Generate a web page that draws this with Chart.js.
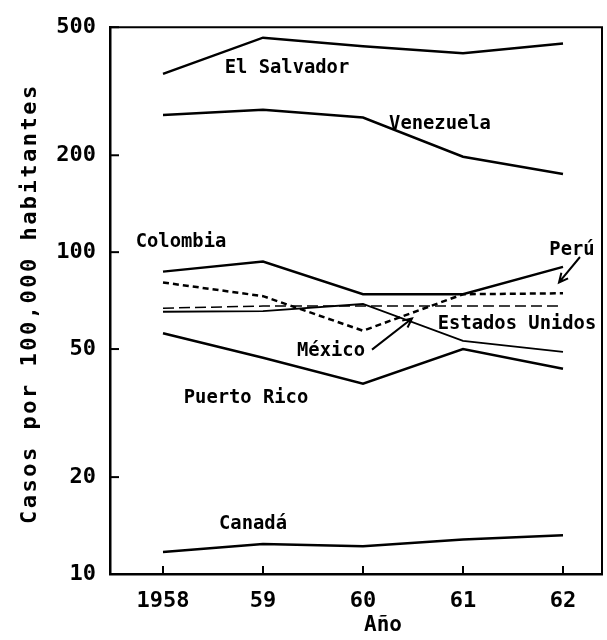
<!DOCTYPE html>
<html lang="es">
<head>
<meta charset="UTF-8">
<title>Casos por 100,000 habitantes</title>
<script src="https://cdn.jsdelivr.net/npm/chart.js@4.4.1/dist/chart.umd.min.js"></script>
<style>
  html, body { margin: 0; padding: 0; background: #fff; }
  #wrap { width: 607px; height: 640px; }
</style>
</head>
<body>
<div id="wrap"><canvas id="chart" width="607" height="640"></canvas></div>
<script>
// data
const years = [1958, 1959, 1960, 1961, 1962];
const xTickLabels = ['1958', '59', '60', '61', '62'];
const yTickValues = [10, 20, 50, 100, 200, 500];

const elSalvador    = [358, 464, 436, 415, 445];
const venezuela     = [267, 277, 262, 198, 175];
const colombia      = [87, 93.5, 74, 74, 90];
const peru          = [80.5, 73, 57, 74, 74.5];
const estadosUnidos = [67, 68, 68, 68, 68];
const mexico        = [65.3, 65.6, 69, 53, 49];
const puertoRico    = [56, 47, 39, 50, 43.4];
const canada        = [11.7, 12.4, 12.2, 12.8, 13.2];

// text labels placed in data units (year, cases)
const seriesLabels = [
  { text: 'El Salvador', x: 1959.24, y: 374 },
  { text: 'Venezuela', x: 1960.77, y: 251 },
  { text: 'Colombia', x: 1958.18, y: 108 },
  { text: 'Perú', x: 1962.09, y: 102 },
  { text: 'Estados Unidos', x: 1961.54, y: 60 },
  { text: 'México', x: 1959.68, y: 49.4 },
  { text: 'Puerto Rico', x: 1958.83, y: 35.4 },
  { text: 'Canadá', x: 1958.9, y: 14.3 }
];
const arrows = [
  { from: [1962.17, 96.6], to: [1961.96, 80.5] },
  { from: [1960.09, 49.8], to: [1960.49, 62.2] }
];

const FONT = '"DejaVu Sans Mono", monospace';

function pts(vals) {
  return years.map((yr, i) => ({ x: yr, y: vals[i] }));
}
function series(label, vals, width, dash) {
  return {
    label: label,
    data: pts(vals),
    borderColor: '#000',
    borderWidth: width,
    borderDash: dash || [],
    pointRadius: 0,
    tension: 0,
    fill: false
  };
}

const annotate = {
  id: 'annotate',
  afterDraw(chart) {
    const { ctx, chartArea: a, scales: { x, y } } = chart;
    ctx.save();
    ctx.strokeStyle = '#000';
    ctx.fillStyle = '#000';

    // top and right frame
    ctx.lineWidth = 2;
    ctx.beginPath();
    ctx.moveTo(a.left, a.top);
    ctx.lineTo(a.right, a.top);
    ctx.lineTo(a.right, a.bottom);
    ctx.stroke();

    // inward tick marks
    y.ticks.forEach((t, i) => {
      const py = y.getPixelForTick(i);
      ctx.beginPath();
      ctx.moveTo(a.left, py);
      ctx.lineTo(a.left + 9, py);
      ctx.stroke();
    });
    x.ticks.forEach((t, i) => {
      const px = x.getPixelForTick(i);
      ctx.beginPath();
      ctx.moveTo(px, a.bottom);
      ctx.lineTo(px, a.bottom - 8);
      ctx.stroke();
    });

    // series names (slightly condensed, like the typewriter face)
    ctx.font = 'bold 20px ' + FONT;
    ctx.textAlign = 'center';
    ctx.textBaseline = 'middle';
    seriesLabels.forEach(l => {
      const w = ctx.measureText(l.text).width * 0.94;
      ctx.fillText(l.text, x.getPixelForValue(l.x), y.getPixelForValue(l.y), w);
    });

    // arrows
    ctx.lineWidth = 2;
    arrows.forEach(ar => {
      const x0 = x.getPixelForValue(ar.from[0]), y0 = y.getPixelForValue(ar.from[1]);
      const x1 = x.getPixelForValue(ar.to[0]), y1 = y.getPixelForValue(ar.to[1]);
      const ang = Math.atan2(y1 - y0, x1 - x0);
      ctx.beginPath();
      ctx.moveTo(x0, y0);
      ctx.lineTo(x1, y1);
      ctx.moveTo(x1 - 10 * Math.cos(ang - 0.45), y1 - 10 * Math.sin(ang - 0.45));
      ctx.lineTo(x1, y1);
      ctx.lineTo(x1 - 10 * Math.cos(ang + 0.45), y1 - 10 * Math.sin(ang + 0.45));
      ctx.stroke();
    });

    // axis titles
    ctx.font = 'bold 21px ' + FONT;
    ctx.fillText('Año', x.getPixelForValue(1960.2), a.bottom + 52);

    ctx.translate(30, (a.top + a.bottom) / 2 + 3);
    ctx.rotate(-Math.PI / 2);
    ctx.font = 'bold 22px ' + FONT;
    ctx.letterSpacing = '2.5px';
    ctx.fillText('Casos por 100,000 habitantes', 0, 0);
    ctx.restore();
  }
};

new Chart(document.getElementById('chart'), {
  type: 'line',
  data: {
    datasets: [
      series('El Salvador', elSalvador, 2.5),
      series('Venezuela', venezuela, 2.5),
      series('Colombia', colombia, 2.5),
      series('Perú', peru, 2.5, [6, 4]),
      series('Estados Unidos', estadosUnidos, 1.5, [11, 5]),
      series('México', mexico, 1.8),
      series('Puerto Rico', puertoRico, 2.5),
      series('Canadá', canada, 2.5)
    ]
  },
  options: {
    responsive: false,
    animation: false,
    layout: { padding: { top: 13, right: 5, left: 0, bottom: 0 } },
    plugins: {
      legend: { display: false },
      tooltip: { enabled: false }
    },
    scales: {
      x: {
        type: 'linear',
        min: 1957.47,
        max: 1962.39,
        afterBuildTicks: s => { s.ticks = years.map(v => ({ value: v })); },
        afterFit: s => { s.height = 66; },
        grid: { display: false, drawTicks: false },
        border: { display: true, color: '#000', width: 2.5 },
        ticks: {
          color: '#000',
          padding: 14,
          font: { family: FONT, size: 22, weight: 'bold' },
          callback: (v) => xTickLabels[years.indexOf(v)]
        }
      },
      y: {
        type: 'logarithmic',
        min: 10,
        max: 500,
        afterBuildTicks: s => { s.ticks = yTickValues.map(v => ({ value: v })); },
        afterFit: s => { s.width = 110; },
        grid: { display: false, drawTicks: false },
        border: { display: true, color: '#000', width: 2.5 },
        ticks: {
          color: '#000',
          padding: 14,
          font: { family: FONT, size: 22, weight: 'bold' },
          callback: (v) => String(v)
        }
      }
    }
  },
  plugins: [annotate]
});
</script>
</body>
</html>
